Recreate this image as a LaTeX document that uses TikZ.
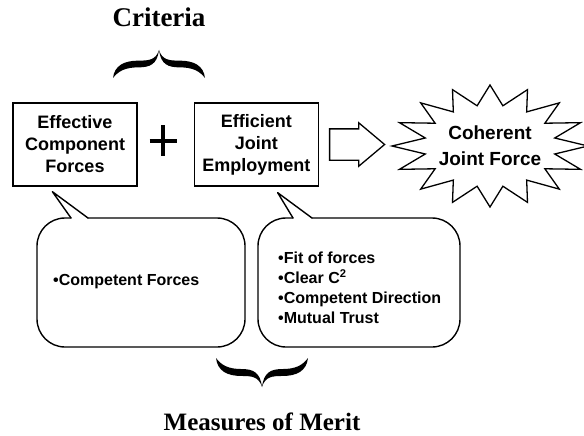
\documentclass[tikz,border=0pt]{standalone}
\usepackage{fontspec}
\setmainfont{Liberation Serif}
\newfontfamily\arialfont{Liberation Sans}
\usetikzlibrary{shapes.arrows,positioning,calc}

\begin{document}
\begin{tikzpicture}[x=1pt,y=-1pt,
    heading/.style={font=\bfseries\fontsize{25}{30}\selectfont},
    factor/.style={draw,line width=1.3pt,minimum width=124pt,minimum height=83pt,
      inner sep=0pt,align=center,font=\arialfont\bfseries\fontsize{18}{22}\selectfont},
    bubble/.style={line width=1.4pt,line cap=round,line join=round},
    mlist/.style={inner sep=0pt,align=left,font=\arialfont\bfseries\fontsize{16}{20}\selectfont}]
  \useasboundingbox (0,0) rectangle (584,436);

  % The two criteria.
  \node[factor] (ecf) at (75,144.5) {Effective\\Component\\Forces};
  \node[factor,right=56pt of ecf] (eje) {Efficient\\Joint\\Employment};

  \coordinate (plus) at (163,141);
  \draw[line width=4.5pt] ($(plus)+(-13.5,0)$) -- ($(plus)+(13.5,0)$)
    ($(plus)+(0,-16)$) -- ($(plus)+(0,15)$);

  % Result.
  \node[single arrow,draw,line width=1.3pt,minimum height=55pt,minimum width=42pt,
    inner xsep=0pt,inner ysep=15pt,single arrow head extend=6pt,
    single arrow tip angle=80,right=10pt of eje] (flow) {};
  \node[font=\arialfont\bfseries\fontsize{19}{26}\selectfont,align=center]
    (cjf) at (490,146) {Coherent\\Joint Force};
  \draw[line width=1.3pt] ($(cjf)+(0:98 and 61)$)
    \foreach \a in {0,22.5,...,337.5} {
      -- ($(cjf)+(\a+11.25:66 and 41)$) -- ($(cjf)+(\a+22.5:98 and 61)$)
    } -- cycle;

  % Measures of merit (speech bubbles).
  \node[mlist,anchor=west] (mom1) at (53,282) {•Competent Forces};
  \draw[bubble,rounded corners=28pt] (88,218) -- (245,218) -- (245,347)
    -- (37,347) -- (37,218) -- (71,218);
  \draw[bubble] (71,218) -- ($(ecf.south west)+(40,5)$) -- (88,218);

  \node[mlist,anchor=west] (mom2) at (278,288)
    {•Fit of forces\\•Clear C\textsuperscript{2}\\•Competent Direction\\•Mutual Trust};
  \draw[bubble,rounded corners=28pt] (312,218) -- (460,218) -- (460,347)
    -- (258,347) -- (258,218) -- (293,218);
  \draw[bubble] (293,218) -- ($(eje.south west)+(84,6)$) -- (312,218);

  % Braces and their titles.
  \foreach \bx/\by/\bh in {159/78/-28, 262/358/29} {
    \foreach \s in {1,-1}
      \fill[shift={(\bx,\by)},xscale=46*\s,yscale=\bh]
        (0,1) .. controls (0.07,0.64) and (0.22,0.62) .. (0.45,0.62)
        .. controls (0.76,0.62) and (0.97,0.44) .. (1,0)
        .. controls (0.88,0.26) and (0.72,0.38) .. (0.45,0.38)
        .. controls (0.2,0.38) and (0.04,0.48) .. (0,1) -- cycle;
  }
  \node[heading,font=\bfseries\fontsize{27}{32}\selectfont,anchor=base]
    (crit) at (159,27) {Criteria};
  \node[heading,anchor=base] (merit) at (262,430) {Measures of Merit};
\end{tikzpicture}
\end{document}
